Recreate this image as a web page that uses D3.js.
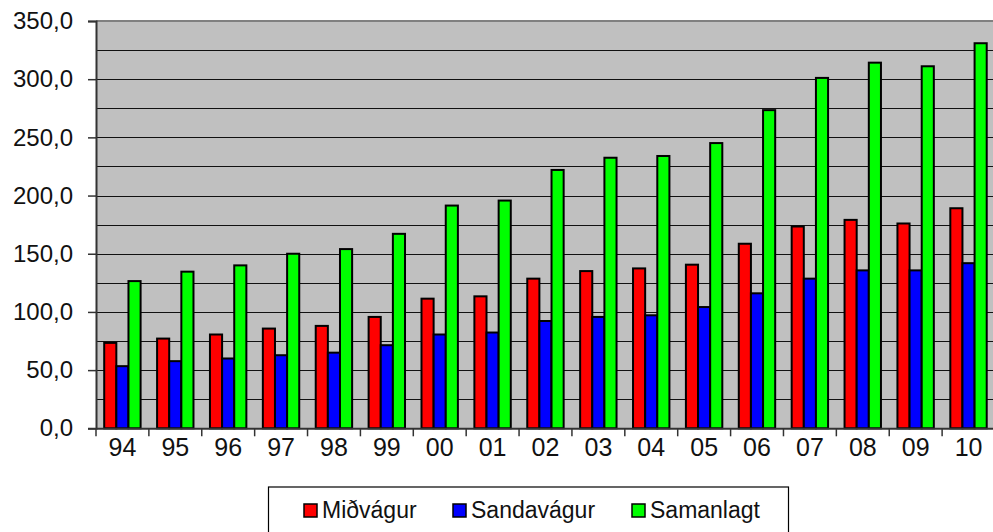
<!DOCTYPE html>
<html>
<head>
<meta charset="utf-8">
<script src="https://cdn.jsdelivr.net/npm/d3@7"></script>
<style>
  body { margin: 0; background: #fff; }
  svg { display: block; font-family: "Liberation Sans", Arial, sans-serif; }
</style>
</head>
<body>
<svg id="chart"></svg>
<script>
// years (x categories)
const years = ["94", "95", "96", "97", "98", "99", "00", "01", "02", "03", "04", "05", "06", "07", "08", "09", "10"];

// series values
const midvagur   = [73.4, 77.1, 80.6, 85.7, 88.0, 95.7, 111.4, 113.4, 128.6, 135.1, 137.4, 140.6, 158.6, 173.4, 179.1, 176.0, 189.1];
const sandavagur = [53.4, 57.7, 60.0, 62.8, 65.0, 71.4, 80.6, 82.3, 92.2, 95.7, 97.1, 104.2, 116.0, 128.6, 135.7, 135.7, 141.9];
const samanlagt  = [126.5, 134.6, 140.0, 150.0, 154.0, 167.1, 191.4, 195.7, 222.0, 232.5, 234.0, 245.1, 273.4, 301.1, 314.2, 311.1, 330.9];

const seriesNames = ["Miðvágur", "Sandavágur", "Samanlagt"];
const seriesColors = ["#ff0000", "#0000ff", "#00ff00"];
const yTicks = [0, 50, 100, 150, 200, 250, 300, 350];

const width = 993;
const height = 532;
const plot = { left: 96, right: 995, top: 21, bottom: 428.3 };

const svg = d3.select("#chart")
  .attr("width", width)
  .attr("height", height);

const x0 = d3.scaleBand()
  .domain(years)
  .range([plot.left, plot.right]);

const x1 = d3.scaleBand()
  .domain(seriesNames)
  .range([8.2, 44.6]);

const y = d3.scaleLinear()
  .domain([0, 350])
  .range([plot.bottom, plot.top]);

const fmt = v => d3.format(".1f")(v).replace(".", ",");

// plot background
svg.append("rect")
  .attr("x", plot.left)
  .attr("y", plot.top)
  .attr("width", plot.right - plot.left)
  .attr("height", plot.bottom - plot.top)
  .attr("fill", "#c0c0c0");

// top border of plot area
svg.append("line")
  .attr("x1", plot.left).attr("x2", plot.right)
  .attr("y1", plot.top).attr("y2", plot.top)
  .attr("stroke", "#808080")
  .attr("stroke-width", 2);

// gridlines every 25
svg.append("g")
  .selectAll("line")
  .data(d3.range(25, 350, 25))
  .enter()
  .append("line")
  .attr("x1", plot.left)
  .attr("x2", plot.right)
  .attr("y1", d => Math.round(y(d)) + 0.5)
  .attr("y2", d => Math.round(y(d)) + 0.5)
  .attr("stroke", "#111")
  .attr("stroke-width", 1.2);

// bars
const groups = svg.append("g")
  .selectAll("g")
  .data(years)
  .enter()
  .append("g")
  .attr("transform", d => `translate(${x0(d)},0)`);

const allSeries = [midvagur, sandavagur, samanlagt];

groups.selectAll("rect")
  .data((d, i) => seriesNames.map((s, k) => ({ s, k, v: allSeries[k][i] })))
  .enter()
  .append("rect")
  .attr("x", d => x1(d.s))
  .attr("y", d => y(d.v))
  .attr("width", x1.bandwidth())
  .attr("height", d => y(0) - y(d.v))
  .attr("fill", d => seriesColors[d.k])
  .attr("stroke", "#000")
  .attr("stroke-width", 2);

// y axis
const yAxis = svg.append("g")
  .attr("transform", `translate(${plot.left},0)`)
  .call(d3.axisLeft(y).tickValues(yTicks).tickSize(8).tickPadding(15).tickFormat(fmt));
yAxis.select(".domain").attr("stroke", "#333").attr("stroke-width", 2);
yAxis.selectAll(".tick line").attr("stroke", "#333").attr("stroke-width", 1.5);
yAxis.selectAll(".tick text")
  .attr("font-size", 24)
  .attr("font-family", "Liberation Sans, Arial, sans-serif")
  .attr("fill", "#111");

// x axis
const xAxis = svg.append("g")
  .attr("transform", `translate(0,${plot.bottom})`)
  .call(d3.axisBottom(x0).tickSize(0).tickPadding(10));
xAxis.select(".domain").attr("stroke", "#333").attr("stroke-width", 2);
xAxis.selectAll(".tick text")
  .attr("font-size", 25)
  .attr("font-family", "Liberation Sans, Arial, sans-serif")
  .attr("fill", "#111");

// category separator ticks
svg.append("g")
  .selectAll("line")
  .data(years)
  .enter()
  .append("line")
  .attr("x1", d => x0(d))
  .attr("x2", d => x0(d))
  .attr("y1", plot.bottom)
  .attr("y2", plot.bottom + 8)
  .attr("stroke", "#333")
  .attr("stroke-width", 1.5);

// legend
const legend = svg.append("g");
legend.append("rect")
  .attr("x", 268.5)
  .attr("y", 487)
  .attr("width", 520)
  .attr("height", 60)
  .attr("fill", "#fff")
  .attr("stroke", "#000")
  .attr("stroke-width", 1.2);

const legendX = [304, 453, 632];
const items = legend.selectAll("g.item")
  .data(seriesNames)
  .enter()
  .append("g")
  .attr("class", "item")
  .attr("transform", (d, i) => `translate(${legendX[i]},504)`);

items.append("rect")
  .attr("width", 13)
  .attr("height", 13)
  .attr("fill", (d, i) => seriesColors[i])
  .attr("stroke", "#000")
  .attr("stroke-width", 1.5);

items.append("text")
  .attr("x", 18)
  .attr("y", 14)
  .attr("font-size", 23)
  .attr("fill", "#111")
  .text(d => d);
</script>
</body>
</html>
